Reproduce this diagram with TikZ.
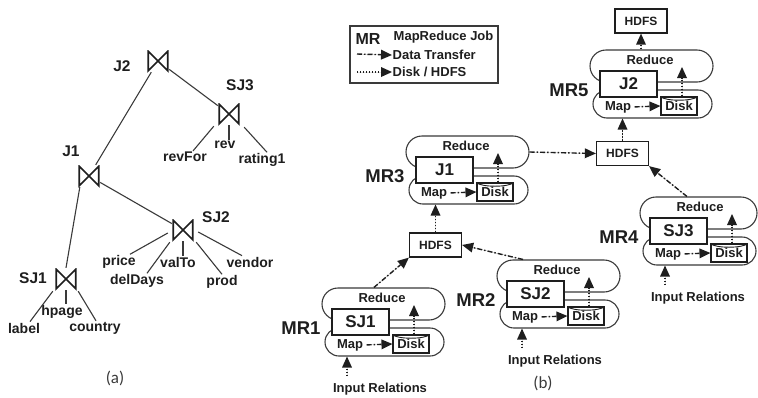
\documentclass[tikz,border=0pt]{standalone}
\usepackage{fontspec}
\setmainfont{Liberation Sans}
\newfontfamily\capfont{Carlito}
\usetikzlibrary{arrows.meta,shapes.misc,calc}
\definecolor{ink}{HTML}{1E1E1E}
\definecolor{edgec}{HTML}{3A3A3A}
\newcommand{\fsz}[1]{\fontsize{#1}{#1}\selectfont\bfseries}
\tikzset{
  tip/.style={-{Triangle[length=11pt,width=10pt,line width=0pt]}},
  dasharrow/.style={tip, draw=ink, fill=ink, line width=1.4pt, dash pattern=on 5pt off 2pt on 1.5pt off 2pt},
  dotarrow/.style={tip, draw=ink, fill=ink, line width=1.6pt, dash pattern=on 1.4pt off 1.6pt},
  stadium/.style={rounded rectangle, draw=edgec, line width=1.1pt, inner sep=0},
  jobbox/.style={draw=ink, line width=1.3pt, fill=white, minimum width=57, minimum height=26, inner sep=0, font=\fsz{17}, text=ink},
  diskbox/.style={draw=ink, line width=1.1pt, fill=white, minimum width=36, minimum height=18, inner sep=0, font=\fsz{13}, text=ink},
  hdfsbox/.style={draw=ink, line width=1.3pt, fill=white, minimum width=52, minimum height=24, inner sep=0, font=\fsz{12}, text=ink},
  smalltext/.style={font=\fsz{13}, text=ink, inner sep=0.5pt},
  mrtext/.style={font=\fsz{18.5}, text=ink, inner sep=0.5pt},
  attr/.style={font=\fsz{14}, text=ink, inner sep=1pt},
  oplabel/.style={font=\fsz{15.5}, text=ink, inner sep=0.5pt},
  treeedge/.style={draw=edgec, line width=1.1pt},
  bowtie/.style={minimum width=22, minimum height=22, inner sep=0,
    path picture={\draw[ink, line width=1.7pt, line join=miter]
      ([shift={(1.2pt,-1.2pt)}]path picture bounding box.north west) --
      ([shift={(-1.2pt,1.2pt)}]path picture bounding box.south east) --
      ([shift={(-1.2pt,-1.2pt)}]path picture bounding box.north east) --
      ([shift={(1.2pt,1.2pt)}]path picture bounding box.south west) -- cycle;}},
  caption/.style={font=\capfont\fontsize{17}{17}\selectfont, text=edgec, inner sep=0}
}
% one MapReduce job: #1 name, #2 x, #3 y (top-left of job box), #4 job, #5 MR label, #6 width reduction
\newcommand{\mrjob}[6]{%
  \node[stadium, minimum width={123-#6}, minimum height=32] (#1red) at ({#2+51.5-#6/2},{#3-5}) {};
  \node[stadium, minimum width={119-#6}, minimum height=28] (#1map) at ({#2+52.5-#6/2},{#3+33}) {};
  \node[jobbox] (#1box) at ({#2+28.5},{#3+13}) {#4};
  \node[diskbox] (#1disk) at ({#2+79},{#3+35}) {Disk};
  \draw[draw=ink, line width=0.9pt] (#1disk.north west) .. controls +(4,5) and +(-4,5) .. (#1disk.north east);
  \node[smalltext] (#1redt) at ({#2+50},{#3-11}) {Reduce};
  \node[smalltext] (#1mapt) at ({#2+18},{#3+36}) {Map};
  \node[mrtext] (#1lab) at ({#2-31},{#3+19}) {#5};
  \draw[dasharrow, shorten <=3pt] (#1mapt.east) -- (#1disk.west);
  \coordinate (#1rtop) at ({#2+82},{#3-4});
  \draw[dotarrow] (#1disk.north -| #1rtop) -- (#1rtop);
}
\newcommand{\inrel}[3]{%
  \node[smalltext] (#1in) at ({#2+48},{#3+80}) {Input Relations};
  \coordinate (#1ax) at ({#2+15},{#3+80});
  \draw[dotarrow, shorten <=6pt] (#1in.north -| #1ax) -- (#1map.south -| #1ax);
}
\begin{document}
\begin{tikzpicture}[x=1pt,y=-1pt]
\useasboundingbox[fill=white] (0,0) rectangle (758,397);

% ---------- panel (a) ----------
\node[bowtie] (j2) at (158,61) {};
\node[bowtie] (sj3) at (229,114) {};
\node[bowtie] (j1) at (89,176) {};
\node[bowtie] (sj2) at (183,230) {};
\node[bowtie] (sj1) at (66,279) {};
\node[oplabel] (j2l) at (122,66) {J2};
\node[oplabel] (sj3l) at (240,85) {SJ3};
\node[oplabel] (j1l) at (71,151) {J1};
\node[oplabel] (sj2l) at (216,217) {SJ2};
\node[oplabel] (sj1l) at (33,278) {SJ1};

\node[attr] (revfor) at (185,157) {revFor};
\node[attr] (rev) at (225,145) {rev};
\node[attr] (rating) at (262,160) {rating1};
\node[attr] (price) at (119,262) {price};
\node[attr] (deldays) at (137,281) {delDays};
\node[attr] (valto) at (178,262) {valTo};
\node[attr] (prod) at (222,282) {prod};
\node[attr] (vendor) at (250,262) {vendor};
\node[attr] (labelv) at (24,328) {label};
\node[attr] (hpage) at (62,312) {hpage};
\node[attr] (country) at (95,328) {country};

\draw[treeedge] (j2) -- (sj3);
\draw[treeedge] (j2) -- (j1);
\draw[treeedge] (j1) -- (sj2);
\draw[treeedge] ([xshift=2pt]j1.south west) -- (sj1.north);
\draw[treeedge] ([shift={(-4pt,-1pt)}]sj3.south west) -- ([xshift=8pt]revfor.north);
\draw[treeedge] (sj3.south) -- (sj3.south |- rev.north);
\draw[treeedge] ([shift={(4pt,-2pt)}]sj3.south east) -- ([xshift=5pt]rating.north);
\draw[treeedge] ([shift={(-4pt,-3pt)}]sj2.west) -- ([xshift=11pt]price.north);
\draw[treeedge] ([shift={(-2pt,-1pt)}]sj2.south west) -- ([xshift=10pt]deldays.north);
\draw[treeedge] (sj2.south) -- (sj2.south |- valto.north);
\draw[treeedge] ([shift={(2pt,-1pt)}]sj2.south east) -- (prod.north);
\draw[treeedge] ([shift={(4pt,-2pt)}]sj2.east) -- ([xshift=-8pt]vendor.north);
\draw[treeedge] ([shift={(-2pt,-1pt)}]sj1.south west) -- ([xshift=6pt]labelv.north);
\draw[treeedge] (sj1.south) -- (sj1.south |- hpage.north);
\draw[treeedge] ([shift={(1pt,-1pt)}]sj1.south east) -- ([xshift=1pt]country.north);

\node[caption] (capa) at (115,378) {(a)};

% ---------- panel (b) ----------
% legend
\node[draw=edgec, line width=1.2pt, minimum width=148, minimum height=57, inner sep=0] (legend) at (424,54.5) {};
\node[font=\fsz{16}, text=ink, inner sep=0] (lgmr) at (368,39) {MR};
\node[smalltext, anchor=west] (lgmrj) at (393,37) {MapReduce Job};
\node[smalltext, anchor=west] (lgdt) at (392,55) {Data Transfer};
\node[smalltext, anchor=west] (lghd) at (392,72) {Disk / HDFS};
\coordinate (lgd1) at (357,54);
\coordinate (lgh1) at (357,72);
\draw[dasharrow] (lgd1) -- (lgdt.west);
\draw[dotarrow] (lgh1) -- (lghd.west);

% HDFS boxes
\node[hdfsbox] (hdfstop) at (641,21) {HDFS};
\node[hdfsbox] (hdfsmid) at (622.5,153.5) {HDFS};
\node[hdfsbox] (hdfslow) at (435.5,245) {HDFS};

% jobs
\mrjob{mra}{332}{309}{SJ1}{MR1}{0}
\mrjob{mrb}{507}{281}{SJ2}{MR2}{0}
\mrjob{mrc}{416}{157}{J1}{MR3}{0}
\mrjob{mrd}{650}{218}{SJ3}{MR4}{6}
\mrjob{mre}{600}{71}{J2}{MR5}{0}

\inrel{mra}{332}{309}
\inrel{mrb}{507}{281}
\inrel{mrd}{650}{218}

% data flow between jobs
\draw[dasharrow] (mrared.120) -- (hdfslow.south west);
\draw[dasharrow] (mrbred.155) -- (hdfslow.east);
\draw[dotarrow] (hdfslow.north) -- (mrcmap.south -| hdfslow.north);
\draw[dasharrow] (mrcred.east) -- (hdfsmid.west);
\draw[dasharrow] (mrdred.125) -- (hdfsmid.south east);
\draw[dotarrow] (hdfsmid.north) -- (mremap.south -| hdfsmid.north);
\draw[dotarrow] (mrered.north -| hdfstop.south) -- (hdfstop.south);

\node[caption] (capb) at (543,383) {(b)};
\end{tikzpicture}
\end{document}
